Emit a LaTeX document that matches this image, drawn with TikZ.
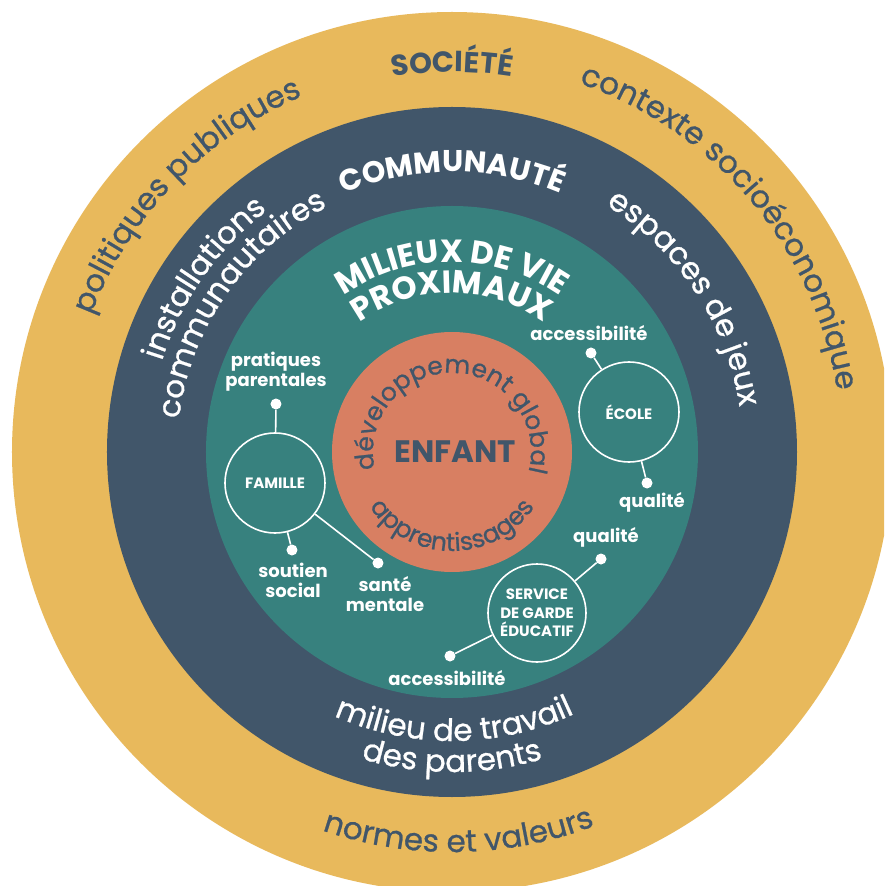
\documentclass[tikz,border=0pt]{standalone}
\usepackage{fontspec}
\setmainfont{Poppins}
\newfontfamily\moyen{Poppins}[FakeBold=0.8]
\usetikzlibrary{decorations.text}

\definecolor{societe}{HTML}{E8B95C}
\definecolor{communaute}{HTML}{41566A}
\definecolor{milieux}{HTML}{37817E}
\definecolor{enfant}{HTML}{D87F62}
\definecolor{encre}{HTML}{41566A}

\newcommand{\courant}{\moyen\fontsize{31}{31}\selectfont}
\newcommand{\titre}[1]{\fontsize{#1}{#1}\selectfont\bfseries}

\tikzset{
  arctext/.style={decorate, decoration={text along path, text align=center, text color=#1}},
  milieu/.style={circle, draw=white, line width=1.6pt, minimum size=100pt, inner sep=0pt,
    text=white, align=center, font=\fontsize{15}{18.5}\selectfont\bfseries},
  point/.style={circle, fill=white, minimum size=11pt, inner sep=0pt},
  lien/.style={draw=white, line width=1.6pt},
  etiquette/.style={text=white, align=center, font=\fontsize{18}{20}\selectfont\bfseries},
}

\begin{document}
\begin{tikzpicture}[x=1pt,y=1pt]
    \useasboundingbox (-452,-434) rectangle (432,452);
    \clip (-452,-434) rectangle (432,452);
    \fill[white] (-452,-434) rectangle (432,452);
    % les quatre anneaux
    \fill[societe] (0,0) circle (440);
    \fill[communaute] (0,0) circle (345);
    \fill[milieux] (0,0) circle (246);
    \fill[enfant] (0,0) circle (120);

    % societe
    \path[arctext=encre, decoration={text={|\titre{29}|SOCIÉTÉ}}]
        (150:380) arc[start angle=150, end angle=30, radius=380];
    \path[arctext=encre, decoration={text={|\courant|politiques publiques}}]
        (196:386) arc[start angle=196, end angle=76, radius=386];
    \path[arctext=encre, decoration={text={|\courant|contexte socioéconomique}}]
        (110:390) arc[start angle=110, end angle=-30, radius=390];
    \path[arctext=encre, decoration={text={|\courant|normes et valeurs}}]
        (211:400) arc[start angle=211, end angle=331, radius=400];

    % communaute
    \path[arctext=white, decoration={text={|\titre{30}|COMMUNAUTÉ}}]
        (150:280) arc[start angle=150, end angle=30, radius=280];
    \path[arctext=white, decoration={text={|\courant|installations}}]
        (205:304) arc[start angle=205, end angle=85, radius=304];
    \path[arctext=white, decoration={text={|\courant|communautaires}}]
        (205:275) arc[start angle=205, end angle=85, radius=275];
    \path[arctext=white, decoration={text={|\courant|espaces de jeux}}]
        (93.5:291) arc[start angle=93.5, end angle=-26.5, radius=291];
    \path[arctext=white, decoration={text={|\courant|milieu de travail}}]
        (210.5:289) arc[start angle=210.5, end angle=330.5, radius=289];
    \path[arctext=white, decoration={text={|\courant|des parents}}]
        (210:320) arc[start angle=210, end angle=330, radius=320];

    % milieux de vie
    \path[arctext=white, decoration={text={|\titre{32}|MILIEUX DE VIE}}]
        (180:190) arc[start angle=180, end angle=0, radius=190];
    \path[arctext=white, decoration={text={|\titre{32}|PROXIMAUX}}]
        (180:159) arc[start angle=180, end angle=0, radius=159];

    % enfant
    \node[font=\titre{31}, text=encre] (enfant) at (3,0) {ENFANT};
    \path[arctext=encre, decoration={text={|\moyen\fontsize{25}{25}\selectfont|développement global}}]
        (219:79) arc[start angle=219, end angle=-41, radius=79];
    \path[arctext=encre, decoration={text={|\moyen\fontsize{25}{25}\selectfont|apprentissages}}]
        (150:99) arc[start angle=150, end angle=390, radius=99];

    % famille
    \node[milieu] (famille) at (-177,-31) {FAMILLE};
    \node[point] (dotpp) at (-176,48) {};
    \node[point] (dotss) at (-160,-98) {};
    \node[point] (dotsm) at (-74,-111) {};
    \node[etiquette] (pp) at (-176,80) {pratiques\\parentales};
    \node[etiquette] (ss) at (-159,-128) {soutien\\social};
    \node[etiquette] (sm) at (-67,-142) {santé\\mentale};

    % ecole
    \node[milieu] (ecole) at (177,40) {ÉCOLE};
    \node[point] (dotea) at (139,99) {};
    \node[point] (doteq) at (195,-31) {};
    \node[etiquette] (ea) at (137,119) {accessibilité};
    \node[etiquette] (eq) at (200,-50) {qualité};

    % service de garde
    \node[milieu, minimum size=98pt] (garde) at (85,-161) {SERVICE\\DE GARDE\\ÉDUCATIF};
    \node[point] (dotgq) at (149,-107) {};
    \node[point] (dotga) at (-2,-204) {};
    \node[etiquette] (gq) at (154,-85) {qualité};
    \node[etiquette] (ga) at (-5,-226) {accessibilité};

    \foreach \a/\b in {famille/dotpp, famille/dotss, famille/dotsm, ecole/dotea,
        ecole/doteq, garde/dotgq, garde/dotga}
        \draw[lien] (\a) -- (\b);
\end{tikzpicture}
\end{document}
